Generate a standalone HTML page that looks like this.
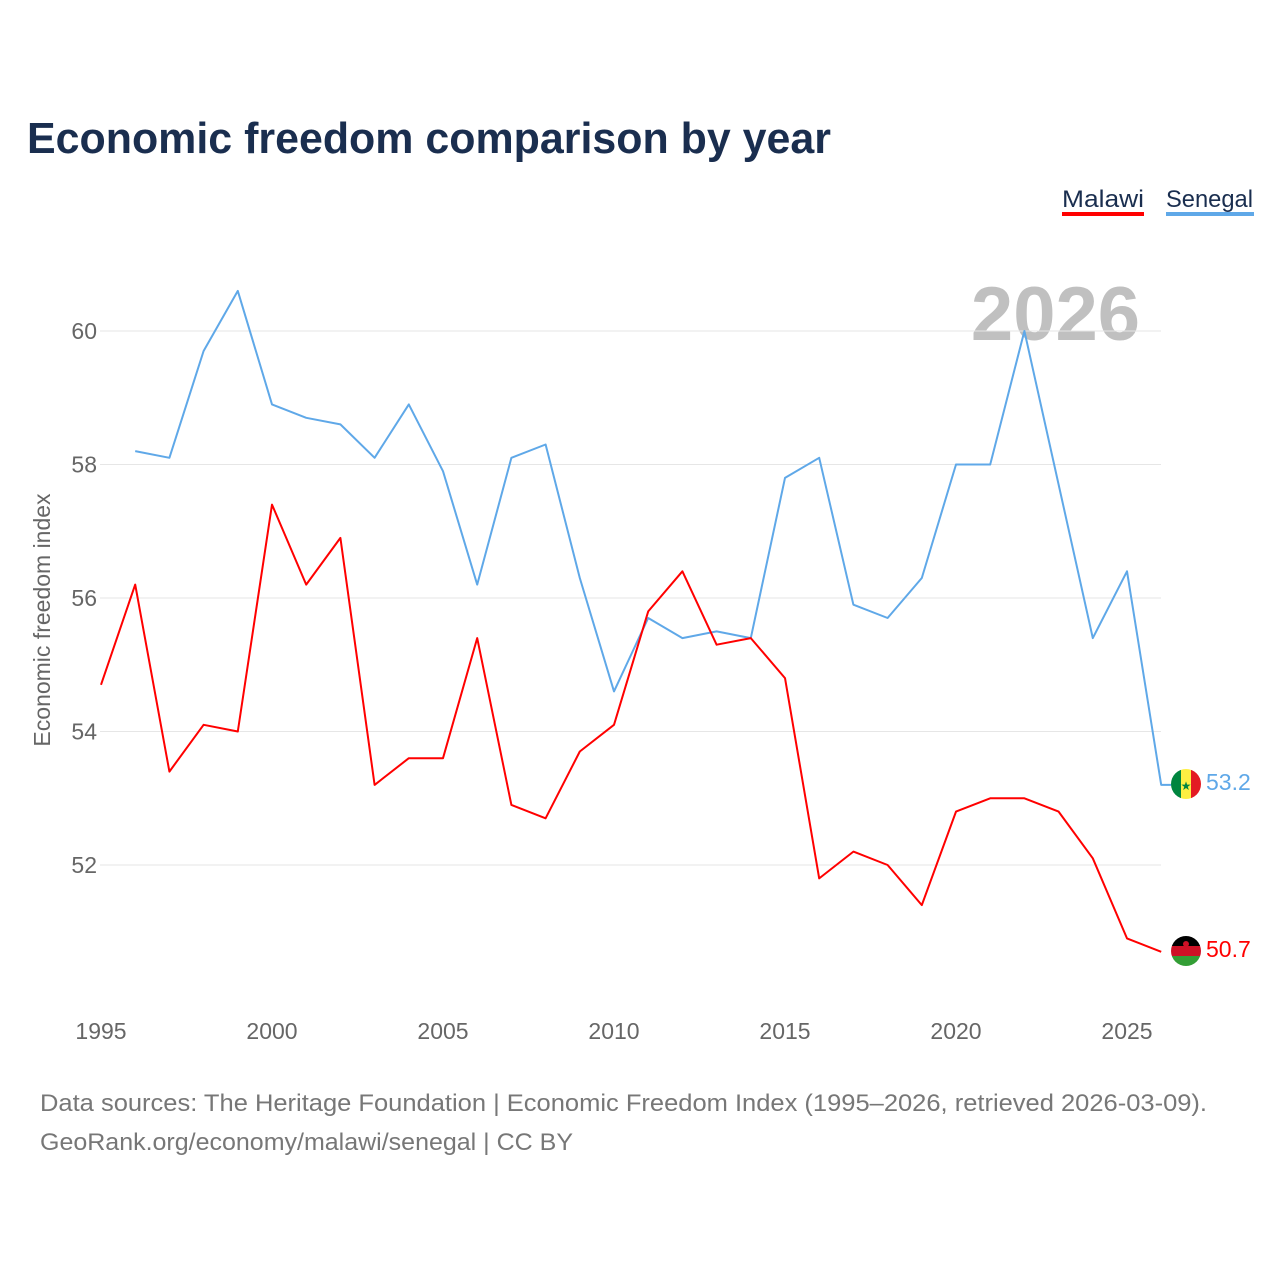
<!DOCTYPE html>
<html><head><meta charset="utf-8"><style>
body{margin:0;background:#fff;font-family:"Liberation Sans",sans-serif}
</style></head><body>
<svg width="1280" height="1280" xmlns="http://www.w3.org/2000/svg">
<rect width="1280" height="1280" fill="#fff"/>
<text x="27" y="153" font-size="44" font-weight="bold" fill="#1a2e4f" textLength="804" lengthAdjust="spacingAndGlyphs">Economic freedom comparison by year</text>
<g>
<text x="1062" y="207" font-size="24" fill="#1a2e4f" textLength="82" lengthAdjust="spacingAndGlyphs">Malawi</text>
<rect x="1062" y="212" width="82" height="4" fill="#ff0000"/>
<text x="1166" y="207" font-size="24" fill="#1a2e4f" textLength="87" lengthAdjust="spacingAndGlyphs">Senegal</text>
<rect x="1166" y="212" width="88" height="4" fill="#5fa8e8"/>
</g>
<text x="1140" y="340" text-anchor="end" font-size="76" font-weight="bold" fill="#c0c0c0">2026</text>
<g id="grid"></g><g id="axes"></g><g id="lines"></g>
<text transform="translate(50,620) rotate(-90)" text-anchor="middle" font-size="23" fill="#666">Economic freedom index</text>
<g>
<clipPath id="c1"><circle cx="1186" cy="784" r="15"/></clipPath>
<g clip-path="url(#c1)"><rect x="1171" y="769" width="10" height="30" fill="#00853f"/><rect x="1181" y="769" width="10" height="30" fill="#fdef42"/><rect x="1191" y="769" width="10" height="30" fill="#e31b23"/></g>
<text x="1186" y="790" text-anchor="middle" font-size="12" fill="#00853f">★</text>
</g>
<g>
<clipPath id="c2"><circle cx="1186" cy="951" r="15"/></clipPath>
<g clip-path="url(#c2)"><rect x="1171" y="936" width="30" height="10" fill="#000"/><rect x="1171" y="946" width="30" height="10" fill="#ce1126"/><rect x="1171" y="956" width="30" height="10" fill="#339e35"/></g>
<circle cx="1186" cy="944" r="3" fill="#ce1126"/>
</g>
<text x="1206" y="790" font-size="23" fill="#5fa8e8">53.2</text>
<text x="1206" y="957" font-size="23" fill="#ff0000">50.7</text>
<text x="40" y="1111" font-size="24" fill="#777" textLength="1167" lengthAdjust="spacingAndGlyphs">Data sources: The Heritage Foundation | Economic Freedom Index (1995–2026, retrieved 2026-03-09).</text>
<text x="40" y="1150" font-size="24" fill="#777" textLength="533" lengthAdjust="spacingAndGlyphs">GeoRank.org/economy/malawi/senegal | CC BY</text>
</svg>
<script>
const years=[];for(let y=1995;y<=2026;y++)years.push(y);
const malawi=[54.7,56.2,53.4,54.1,54.0,57.4,56.2,56.9,53.2,53.6,53.6,55.4,52.9,52.7,53.7,54.1,55.8,56.4,55.3,55.4,54.8,51.8,52.2,52.0,51.4,52.8,53.0,53.0,52.8,52.1,50.9,50.7];
const senegal=[null,58.2,58.1,59.7,60.6,58.9,58.7,58.6,58.1,58.9,57.9,56.2,58.1,58.3,56.3,54.6,55.7,55.4,55.5,55.4,57.8,58.1,55.9,55.7,56.3,58.0,58.0,60.0,57.7,55.4,56.4,53.2];
const yTicks=[52,54,56,58,60];
const xTicks=[1995,2000,2005,2010,2015,2020,2025];
const NS="http://www.w3.org/2000/svg";
const xs=y=>101+(y-1995)*(1026/30);
const ys=v=>331+(60-v)*66.75;
const grid=document.getElementById('grid'),axes=document.getElementById('axes'),lines=document.getElementById('lines');
function mk(t,a){const e=document.createElementNS(NS,t);for(const k in a)e.setAttribute(k,a[k]);return e;}
yTicks.forEach(v=>{
const l=mk('line',{x1:100,x2:1161,y1:ys(v),y2:ys(v),stroke:'#e6e6e6','stroke-width':1});


grid.appendChild(l);
const t=mk('text',{x:97,y:ys(v)+8,'text-anchor':'end','font-size':23,fill:'#666'});t.textContent=v;


axes.appendChild(t);});
xTicks.forEach(v=>{
const t=mk('text',{x:xs(v),y:1039,'text-anchor':'middle','font-size':23,fill:'#666'});t.textContent=v;


axes.appendChild(t);});
function line(data,color,name,tail){let d='',lastX=0,lastY=0;data.forEach((v,i)=>{if(v==null)return;lastX=xs(years[i]);lastY=ys(v);d+=(d?'L':'M')+lastX.toFixed(1)+','+lastY.toFixed(1);});
if(tail)d+='L'+(lastX+tail).toFixed(1)+','+lastY.toFixed(1);
const p=mk('path',{d:d,fill:'none',stroke:color,'stroke-width':2,'stroke-linejoin':'round'});


lines.appendChild(p);}
line(senegal,'#5fa8e8','senegal-line',10);
line(malawi,'#ff0000','malawi-line',0);
</script>
</body></html>
